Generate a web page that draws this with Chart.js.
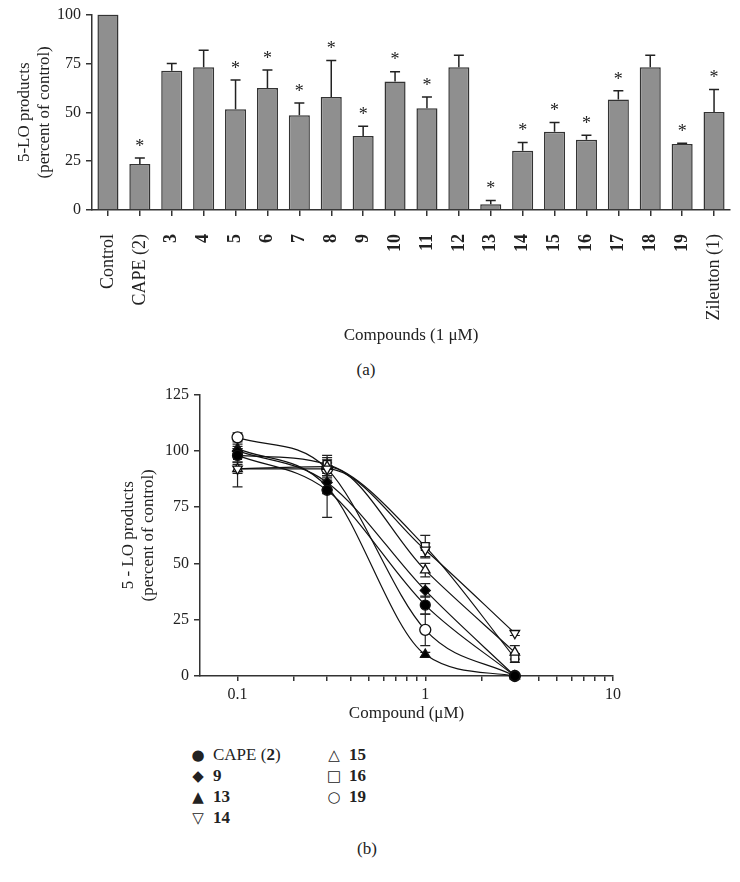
<!DOCTYPE html>
<html lang="en">
<head>
  <meta charset="UTF-8" />
  <title>5-LO products</title>
  <script src="https://cdn.jsdelivr.net/npm/chart.js"></script>
  <style>
    body { margin: 0; background: #fff; font-family: "Liberation Serif", "DejaVu Serif", serif; color: #222; }
    #wrap { position: relative; width: 740px; height: 882px; }
    canvas { position: absolute; left: 0; }
    #barChart { top: 0; }
    #doseChart { top: 380px; }
    .cap { position: absolute; font-size: 17px; transform: translate(-50%, -50%); }
    #legend { position: absolute; left: 189px; top: 745px; font-size: 17px; }
    .item { position: absolute; white-space: nowrap; line-height: 20px; }
    .sym { display: inline-block; width: 18px; text-align: center; font-family: "DejaVu Sans", sans-serif; font-size: 15px; margin-right: 6px; }
  </style>
</head>
<body>
<div id="wrap">
  <canvas id="barChart" width="740" height="350"></canvas>
  <div class="cap" style="left:366px; top:370px;">(a)</div>
  <canvas id="doseChart" width="740" height="346"></canvas>
  <div id="legend"></div>
  <div class="cap" style="left:367px; top:849px;">(b)</div>
</div>

<script>
  // panel (a): 5-LO products at 1 uM
  const compounds = ["Control", "CAPE (2)", "3", "4", "5", "6", "7", "8", "9", "10", "11", "12",
                     "13", "14", "15", "16", "17", "18", "19", "Zileuton (1)"];
  const products = [100, 23.5, 71.3, 73, 51.6, 62.4, 48.5, 57.8, 37.9, 65.7, 52.1, 73,
                    2.9, 30.3, 40.1, 36, 56.6, 73, 33.8, 50.1];
  const productsErr = [0, 3.1, 3.7, 8.8, 14.9, 9.3, 6.2, 18.7, 5, 5.1, 5.7, 6.2,
                       1.9, 4.3, 4.7, 2.2, 4.4, 6.2, 0.3, 11.6];
  const significant = [0, 1, 0, 0, 1, 1, 1, 1, 1, 1, 1, 0, 1, 1, 1, 1, 1, 0, 1, 1];

  // panel (b): concentration-response
  const doses = [0.1, 0.3, 1, 3];
  const cape = [98, 82.5, 31.5, 0];
  const capeErr = [3, 12, 4, 0];
  const c9 = [100, 86, 38, 0];
  const c9Err = [2, 3, 3, 0];
  const c13 = [101, 84, 9.5, 0];
  const c13Err = [2, 3, 1, 0];
  const c14 = [92, 92, 56, 19];
  const c14Err = [8, 3, 3, 1];
  const c15 = [92, 93, 47, 10.5];
  const c15Err = [2, 4, 3, 3];
  const c16 = [98, 94, 57.5, 8];
  const c16Err = [3, 4, 5, 2];
  const c19 = [106, 92, 20.5, 0];
  const c19Err = [2, 4, 7, 0];
  const doseTicks = [0.1, 0.2, 0.3, 0.4, 0.5, 0.6, 0.7, 0.8, 0.9, 1, 2, 3, 4, 5, 6, 7, 8, 9, 10];
  const doseLabels = [0.1, 1, 10];

  const FONT = "'Liberation Serif', 'DejaVu Serif', serif";
  const INK = "#222";

  const barExtras = {
    id: "barExtras",
    afterDatasetsDraw(chart) {
      const ctx = chart.ctx;
      const y = chart.scales.y;
      const bars = chart.getDatasetMeta(0).data;
      ctx.save();
      ctx.strokeStyle = INK;
      ctx.lineWidth = 1.5;
      ctx.fillStyle = INK;
      ctx.font = "18px " + FONT;
      ctx.textAlign = "center";
      ctx.textBaseline = "middle";
      bars.forEach((bar, i) => {
        const top = y.getPixelForValue(products[i] + productsErr[i]);
        if (productsErr[i] > 0) {
          ctx.beginPath();
          ctx.moveTo(bar.x, bar.y);
          ctx.lineTo(bar.x, top);
          ctx.moveTo(bar.x - 5, top);
          ctx.lineTo(bar.x + 5, top);
          ctx.stroke();
        }
        if (significant[i]) ctx.fillText("*", bar.x, top - 11);
      });
      ctx.restore();
    }
  };

  new Chart(document.getElementById("barChart"), {
    type: "bar",
    data: {
      labels: compounds,
      datasets: [{
        data: products,
        backgroundColor: "#8f8f8f",
        borderColor: "#333",
        borderWidth: 1.5,
        barPercentage: 0.66,
        categoryPercentage: 1
      }]
    },
    options: {
      responsive: false,
      animation: false,
      layout: { padding: { left: 14, right: 10, top: 8, bottom: 0 } },
      plugins: { legend: { display: false }, tooltip: { enabled: false } },
      scales: {
        x: {
          offset: true,
          grid: { offset: false, drawOnChartArea: false, tickLength: 6, color: "#333", lineWidth: 1.5 },
          border: { color: "#333", width: 1.5 },
          ticks: {
            autoSkip: false, minRotation: 90, maxRotation: 90, color: INK, padding: 18,
            font: c => ({ family: FONT, size: 18, weight: /^\d+$/.test(compounds[c.index]) ? "bold" : "normal" })
          },
          title: { display: true, text: "Compounds (1 μM)", color: INK, font: { family: FONT, size: 17 } },
          afterFit: s => { s.height = 140; s.paddingLeft = 0; s.paddingRight = 0; }
        },
        y: {
          min: 0, max: 100,
          grid: { drawOnChartArea: false, tickLength: 6, color: "#333", lineWidth: 1.5 },
          border: { color: "#333", width: 1.5 },
          ticks: { stepSize: 25, color: INK, padding: 5, font: { family: FONT, size: 16 } },
          title: { display: true, text: ["5-LO products", "(percent of control)"], color: INK,
                   font: { family: FONT, size: 17 }, padding: 0 },
          afterFit: s => { s.width = 78; }
        }
      }
    },
    plugins: [barExtras]
  });

  const series = [
    { label: "CAPE (2)", y: cape, err: capeErr, style: "circle", r: 5, fill: "#000", rot: 0 },
    { label: "9", y: c9, err: c9Err, style: "rectRot", r: 5, fill: "#000", rot: 0 },
    { label: "13", y: c13, err: c13Err, style: "triangle", r: 5.5, fill: "#000", rot: 0 },
    { label: "14", y: c14, err: c14Err, style: "triangle", r: 5.5, fill: "#fff", rot: 180 },
    { label: "15", y: c15, err: c15Err, style: "triangle", r: 5.5, fill: "#fff", rot: 0 },
    { label: "16", y: c16, err: c16Err, style: "rect", r: 5.5, fill: "#fff", rot: 0 },
    { label: "19", y: c19, err: c19Err, style: "circle", r: 5.5, fill: "#fff", rot: 0 }
  ];

  const doseErrors = {
    id: "doseErrors",
    beforeDatasetsDraw(chart) {
      const ctx = chart.ctx;
      const y = chart.scales.y;
      ctx.save();
      ctx.strokeStyle = INK;
      ctx.lineWidth = 1.2;
      series.forEach((s, d) => {
        chart.getDatasetMeta(d).data.forEach((pt, i) => {
          if (!s.err[i]) return;
          const hi = y.getPixelForValue(s.y[i] + s.err[i]);
          const lo = y.getPixelForValue(Math.max(0, s.y[i] - s.err[i]));
          ctx.beginPath();
          ctx.moveTo(pt.x, hi); ctx.lineTo(pt.x, lo);
          ctx.moveTo(pt.x - 5, hi); ctx.lineTo(pt.x + 5, hi);
          ctx.moveTo(pt.x - 5, lo); ctx.lineTo(pt.x + 5, lo);
          ctx.stroke();
        });
      });
      ctx.restore();
    }
  };

  new Chart(document.getElementById("doseChart"), {
    type: "line",
    data: {
      datasets: series.map(s => ({
        label: s.label,
        data: doses.map((x, i) => ({ x: x, y: s.y[i] })),
        borderColor: "#111",
        borderWidth: 1.2,
        cubicInterpolationMode: "monotone",
        pointStyle: s.style,
        pointRadius: s.r,
        pointRotation: s.rot,
        pointBackgroundColor: s.fill,
        pointBorderColor: "#111",
        pointBorderWidth: 1.3,
        clip: false
      }))
    },
    options: {
      responsive: false,
      animation: false,
      layout: { padding: { left: 118, right: 127, top: 9, bottom: 0 } },
      plugins: { legend: { display: false }, tooltip: { enabled: false } },
      scales: {
        x: {
          type: "logarithmic",
          min: 0.0631, max: 10,
          afterBuildTicks: s => { s.ticks = doseTicks.map(v => ({ value: v })); },
          grid: { drawOnChartArea: false, tickLength: 5, color: "#333", lineWidth: 1.5 },
          border: { color: "#333", width: 1.5 },
          ticks: {
            autoSkip: false, maxRotation: 0, color: INK, padding: 4,
            font: { family: FONT, size: 16 },
            callback: v => doseLabels.includes(v) ? String(v) : ""
          },
          title: { display: true, text: "Compound (μM)", color: INK, font: { family: FONT, size: 17 }, padding: 2 },
          afterFit: s => { s.height = 50; }
        },
        y: {
          min: 0, max: 125,
          grid: { drawOnChartArea: false, tickLength: 6, color: "#333", lineWidth: 1.5 },
          border: { color: "#333", width: 1.5 },
          ticks: { stepSize: 25, color: INK, padding: 5, font: { family: FONT, size: 16 } },
          title: { display: true, text: ["5 - LO products", "(percent of control)"], color: INK,
                   font: { family: FONT, size: 17 }, padding: 0 },
          afterFit: s => { s.width = 82; }
        }
      }
    },
    plugins: [doseErrors]
  });

  // two-column legend, symbols as text
  const symbols = { "CAPE (2)": "●", "9": "◆", "13": "▲", "14": "▽", "15": "△", "16": "□", "19": "○" };
  const legend = document.getElementById("legend");
  series.forEach((s, i) => {
    const col = i < 4 ? 0 : 1;
    const row = i < 4 ? i : i - 4;
    const el = document.createElement("div");
    el.className = "item";
    el.style.left = (col * 136) + "px";
    el.style.top = (row * 21) + "px";
    const name = s.label === "CAPE (2)" ? "CAPE (<b>2</b>)" : "<b>" + s.label + "</b>";
    el.innerHTML = '<span class="sym">' + symbols[s.label] + "</span>" + name;
    legend.appendChild(el);
  });
</script>
</body>
</html>
